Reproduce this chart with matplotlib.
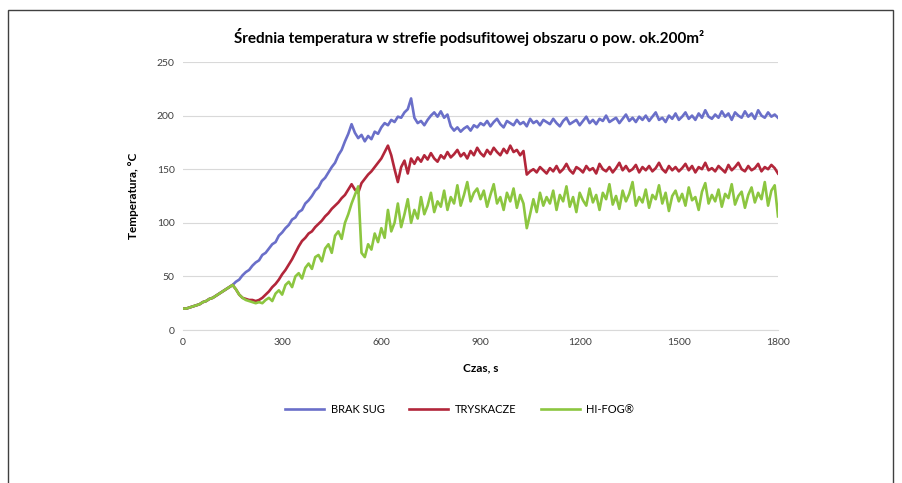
import matplotlib
matplotlib.use("Agg")
from matplotlib import pyplot as plt
from matplotlib.patches import Rectangle

plt.rcParams['font.family'] = ['Lato', 'DejaVu Sans']

# czas co 10 s
czas = list(range(0, 1810, 10))

# wspólny początek (0-150 s)
poczatek = [20, 20, 21, 22, 23, 24, 26, 27, 29, 30, 32, 34, 36, 38, 40, 42]

brak_sug = poczatek + [
    45, 47, 51, 54, 56, 60, 63, 65, 70, 72,
    76, 80, 82, 88, 91, 95, 98, 103, 105, 110,
    112, 118, 121, 125, 130, 133, 139, 142, 147, 152,
    156, 163, 168, 176, 183, 192, 184, 179, 182, 176,
    181, 178, 185, 183, 189, 193, 191, 196, 194, 199,
    198, 203, 206, 216, 198, 193, 195, 191, 196, 200,
    203, 199, 204, 198, 201, 190, 186, 189, 185, 188,
    190, 186, 191, 189, 193,
    191, 195, 190, 194, 197, 192, 189, 195, 193, 191,
    196, 192, 194, 190, 197, 193, 195, 191, 196, 194,
    192, 197, 193, 190, 195, 198, 192, 194, 196, 191,
    195, 199, 193, 196, 192, 197, 195, 200, 194, 196,
    198, 193, 197, 201, 195, 198, 194, 199, 196, 200,
    195, 199, 203, 196, 198, 194, 200, 197, 202, 196,
    199, 203, 197, 200, 196, 202, 198, 205, 199, 197,
    201, 198, 204, 199, 202, 196, 203, 200, 198, 204,
    199, 202, 197, 205, 200, 198, 203, 199, 201, 198]

tryskacze = poczatek + [
    38, 33, 30, 29, 28, 28, 27, 28, 30, 33,
    36, 40, 43, 47, 52, 56, 61, 66, 72, 78,
    83, 86, 90, 92, 96, 99, 102, 106, 109, 113,
    116, 119, 123, 126, 131, 136, 131, 128, 137, 141,
    145, 148, 152, 156, 160, 166, 172, 163, 150, 138,
    152, 158, 146, 160, 155, 161, 157, 163, 159, 165,
    160, 157, 163, 160, 166, 161, 164, 168, 162, 165,
    160, 167, 163, 170, 165, 162, 168, 164, 170, 166,
    163, 169, 165, 172, 166, 168, 163, 167,
    145, 148, 150, 147, 152, 149, 146,
    151, 148, 153, 147, 150, 155, 149, 146, 152, 150,
    147, 153, 149, 151, 146, 155, 150, 148, 152, 147,
    151, 156, 149, 153, 148, 150, 154, 147, 152, 149,
    153, 148, 151, 156, 150, 147, 153, 149, 152, 148,
    151, 155, 149, 153, 147, 152, 150, 156, 149, 151,
    148, 153, 150, 147, 154, 149, 152, 156, 150, 148,
    153, 149, 151, 155, 148, 152, 150, 154, 151, 146]

hifog = poczatek + [
    38, 33, 30, 28, 27, 26, 25, 26, 25, 28,
    30, 27, 34, 37, 33, 42, 45, 40, 50, 53,
    48, 58, 62, 57, 68, 70, 64, 76, 80, 72,
    88, 92, 85, 100, 108, 118, 126, 134, 72, 68,
    80, 75, 90, 82, 95, 86, 112, 92, 100, 118,
    96, 108, 122, 100, 112, 104, 124, 108, 116, 128,
    110, 120, 115, 130, 112, 124, 118, 135, 116, 126,
    138, 120, 128, 132, 122, 130, 115, 126, 136, 118,
    124, 112, 128, 120, 132, 114, 126, 118, 95, 108,
    122, 110, 128, 116, 124,
    118, 130, 112, 126, 120, 134, 115, 124, 110, 128,
    121, 116, 132, 119, 126, 112, 128, 122, 136, 117,
    125, 113, 130, 120, 127, 138, 116, 124, 119, 131,
    114, 126, 122, 135, 118, 128, 111, 125, 130, 120,
    127, 116, 133, 121, 124, 112, 129, 137, 118, 126,
    120, 131, 115, 127, 123, 136, 117, 125, 129, 114,
    126, 133, 119, 128, 122, 138, 116, 130, 135, 106]

serie = [("BRAK SUG", brak_sug, "#6A6FC9"),
         ("TRYSKACZE", tryskacze, "#B2263A"),
         ("HI-FOG®", hifog, "#8CC640")]

fig = plt.figure(figsize=(9.03, 4.83), dpi=100)
fig.patches.append(Rectangle((8 / 903, -0.1), 885 / 903, 1.1 - 10 / 483,
                             transform=fig.transFigure, fill=False,
                             edgecolor="#404040", lw=1))

ax = fig.add_axes([183 / 903, 153 / 483, 595 / 903, 268 / 483])
for nazwa, y, kolor in serie:
    ax.plot(czas, y, color=kolor, lw=1.9, label=nazwa)

ax.set_xlim(0, 1800)
ax.set_ylim(0, 250)
ax.set_xticks(range(0, 1801, 300))
ax.set_yticks(range(0, 251, 50))
ax.tick_params(length=0, labelsize=7.5, colors="#404040", pad=6)
ax.yaxis.grid(True, color="#D9D9D9", lw=0.8)
ax.set_axisbelow(True)
for s in ["top", "right", "left"]:
    ax.spines[s].set_visible(False)
ax.spines["bottom"].set_color("#D9D9D9")

ax.set_title("Średnia temperatura w strefie podsufitowej obszaru o pow. ok.200m²",
             fontsize=11, fontweight="bold", pad=14, x=0.48)
ax.set_xlabel("Czas, s", fontsize=8.5, fontweight="bold", labelpad=11)
ax.set_ylabel("Temperatura, °C", fontsize=8.5, fontweight="bold", labelpad=13)

ax.legend(loc="upper center", bbox_to_anchor=(0.465, -0.24), ncol=3,
          frameon=False, fontsize=8, handlelength=3.5, handletextpad=0.6,
          columnspacing=2.2)

fig.savefig("out.png", dpi=100)
